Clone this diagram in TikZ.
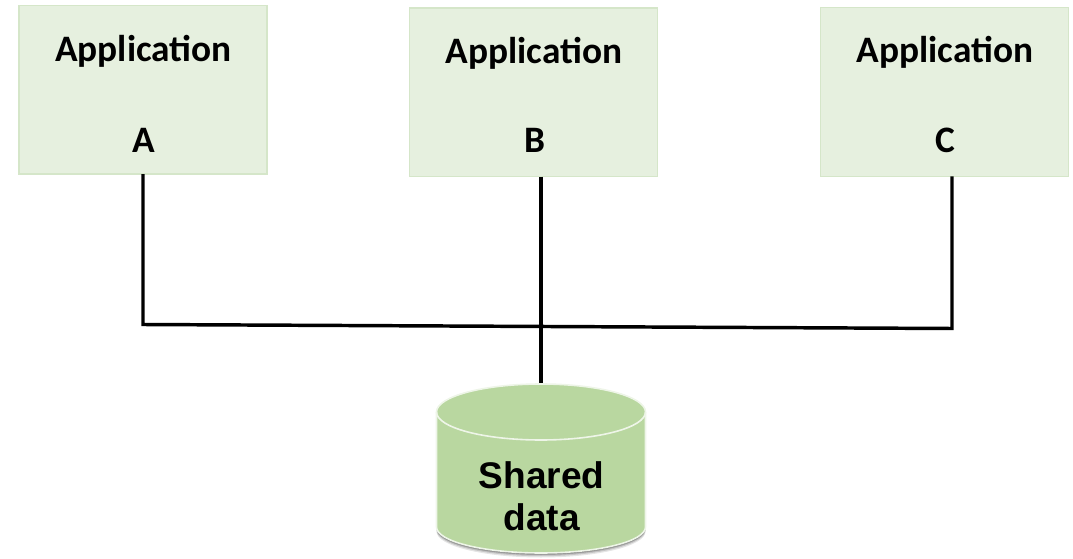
\documentclass[tikz,border=0pt]{standalone}
\usepackage{fontspec}
\setmainfont{Carlito}
\newfontfamily\dbfont{Liberation Sans}
\usetikzlibrary{calc}
\definecolor{boxfill}{HTML}{E6F0DF}
\definecolor{boxedge}{HTML}{D5E6C9}
\definecolor{dbfill}{HTML}{B9D7A0}
\definecolor{dbedge}{HTML}{EEF5E8}
\tikzset{
  appbox/.style={draw=boxedge,fill=boxfill,line width=1.1pt,inner sep=0pt,outer sep=0pt,minimum width=186pt,minimum height=126.4pt},
  applabel/.style={anchor=base,inner sep=0pt,font=\fontsize{28}{32}\selectfont\bfseries,text=black},
  dblabel/.style={anchor=base,inner sep=0pt,font=\dbfont\fontsize{27.8}{32}\selectfont\bfseries,text=black},
  wire/.style={draw=black,line width=2.6pt},
  dbshape/.style={fill=dbfill,draw=dbedge,line width=1.2pt},
}
\begin{document}
\begin{tikzpicture}[x=0.75pt,y=-0.75pt]
\useasboundingbox (0,0) rectangle (1073,559);
% boxes
\node[appbox] (boxa) at (143,89.75) {};
\node[appbox] (boxb) at (533.5,92.25) {};
\node[appbox] (boxc) at (944.25,92) {};
\coordinate (pa) at (boxa.south);
\coordinate (pb) at ($(boxb.south)+(7.5,0)$);
\coordinate (pc) at ($(boxc.south)+(7.75,0)$);
\coordinate (ca) at (143,324.5);
\coordinate (cc) at (952,328.5);
\coordinate (db) at (541,384);
\draw[wire] (pb) -- (db);
\draw[wire,line join=miter] (pa) -- (ca) -- (cc) -- (pc);
% shadow
\foreach \g/\o in {0.10/4.5,0.14/3.2,0.2/2,0.28/1}{
  \fill[black,opacity=\g] (436.5,500) -- (436.5,527+\o) arc[x radius=104.5,y radius=26,start angle=180,end angle=0] -- (645.5,500) -- cycle;
}
% cylinder
\path[dbshape] (436.5,412) -- (436.5,527) arc[x radius=104.5,y radius=26,start angle=180,end angle=0] -- (645.5,412) arc[x radius=104.5,y radius=28,start angle=0,end angle=-180] -- cycle;
\draw[dbedge,line width=1.2pt] (436.5,412) arc[x radius=104.5,y radius=28,start angle=180,end angle=0];
% labels
\node[applabel] (a1) at (143.5,62) {Application};
\node[applabel] (a2) at (144,153) {A};
\node[applabel] (b1) at (534,64) {Application};
\node[applabel] (b2) at (535,153) {B};
\node[applabel] (c1) at (945,63) {Application};
\node[applabel] (c2) at (945,152.5) {C};
\node[dblabel] (d1) at (541.5,488) {Shared};
\node[dblabel] (d2) at (541.5,530.5) {data};
\end{tikzpicture}
\end{document}
